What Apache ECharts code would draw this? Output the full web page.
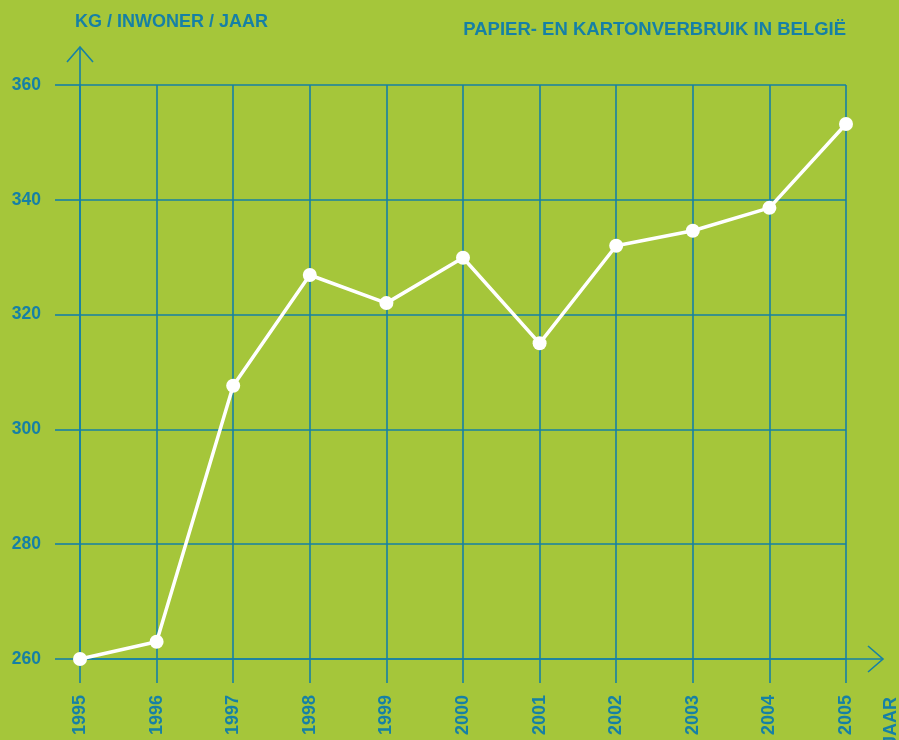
<!DOCTYPE html>
<html>
<head>
<meta charset="utf-8">
<script src="https://cdn.jsdelivr.net/npm/echarts@6/dist/echarts.min.js"></script>
<style>
html,body{margin:0;padding:0;background:#a5c63a;}
#c{width:899px;height:740px;}
</style>
</head>
<body>
<div id="c"></div>
<script>
var years = ['1995','1996','1997','1998','1999','2000','2001','2002','2003','2004','2005'];
var values = [260, 263, 307.6, 326.9, 322, 329.9, 315, 332, 334.6, 338.6, 353.2];
var yTicks = [260, 280, 300, 320, 340, 360];
var yTitle = 'KG / INWONER / JAAR';
var mainTitle = 'PAPIER- EN KARTONVERBRUIK IN BELGIË';
var xName = 'JAAR';

var BLUE = '#1680a5';
var FONT = '"Liberation Sans", Arial, sans-serif';

var chart = echarts.init(document.getElementById('c'));
var option = {
  backgroundColor: '#a5c63a',
  animation: false,
  title: [
    {text: yTitle, left: 70, top: 8, textStyle: {color: BLUE, fontSize: 18, fontWeight: 'bold', fontFamily: FONT}},
    {text: mainTitle, right: 48, top: 15, textStyle: {color: BLUE, fontSize: 18.5, fontWeight: 'bold', fontFamily: FONT}}
  ],
  grid: {left: 80, right: 53, top: 85, bottom: 81},
  xAxis: {
    type: 'category', data: years, boundaryGap: false,
    axisLine: {show: true, lineStyle: {color: BLUE, width: 1.6}},
    axisTick: {show: true, length: 24, lineStyle: {color: BLUE, width: 1.6}},
    splitLine: {show: true, lineStyle: {color: BLUE, width: 1.6}},
    axisLabel: {rotate: 90, margin: 36, color: BLUE, fontSize: 18, fontWeight: 'bold', fontFamily: FONT}
  },
  yAxis: {
    type: 'value', min: 260, max: 360, interval: 20,
    axisLine: {show: true, lineStyle: {color: BLUE, width: 1.6}},
    axisTick: {show: true, length: 25, lineStyle: {color: BLUE, width: 1.6}},
    splitLine: {show: true, lineStyle: {color: BLUE, width: 1.6}},
    axisLabel: {margin: 39, color: BLUE, fontSize: 17.5, fontWeight: 'bold', fontFamily: FONT,
      formatter: function(v){ return yTicks.indexOf(v) >= 0 ? String(v) : ''; }}
  },
  series: [{
    type: 'line', data: values,
    symbol: 'circle', symbolSize: 14, showSymbol: true,
    lineStyle: {color: '#ffffff', width: 3.5},
    itemStyle: {color: '#ffffff'},
    z: 5
  }]
};
chart.setOption(option);

var pTop = chart.convertToPixel({gridIndex: 0}, [years[0], 360]);
var pEnd = chart.convertToPixel({gridIndex: 0}, [years[years.length-1], 260]);
var x0 = pTop[0], yTop = pTop[1], xEnd = pEnd[0], yBot = pEnd[1];
var ls = {stroke: BLUE, lineWidth: 1.6, fill: null};
chart.setOption({
  graphic: [
    {type: 'line', shape: {x1: x0, y1: yTop, x2: x0, y2: yTop - 38}, style: ls},
    {type: 'polyline', shape: {points: [[x0 - 13, yTop - 23], [x0, yTop - 38], [x0 + 13, yTop - 23]]}, style: ls},
    {type: 'line', shape: {x1: xEnd, y1: yBot, x2: xEnd + 37, y2: yBot}, style: ls},
    {type: 'polyline', shape: {points: [[xEnd + 22, yBot - 13], [xEnd + 37, yBot], [xEnd + 22, yBot + 13]]}, style: ls},
    {type: 'text', x: xEnd + 45, y: yBot + 38, rotation: Math.PI / 2,
      style: {text: xName, fill: BLUE, font: 'bold 18px ' + FONT, textAlign: 'right', textVerticalAlign: 'middle'}}
  ]
});
</script>
</body>
</html>
